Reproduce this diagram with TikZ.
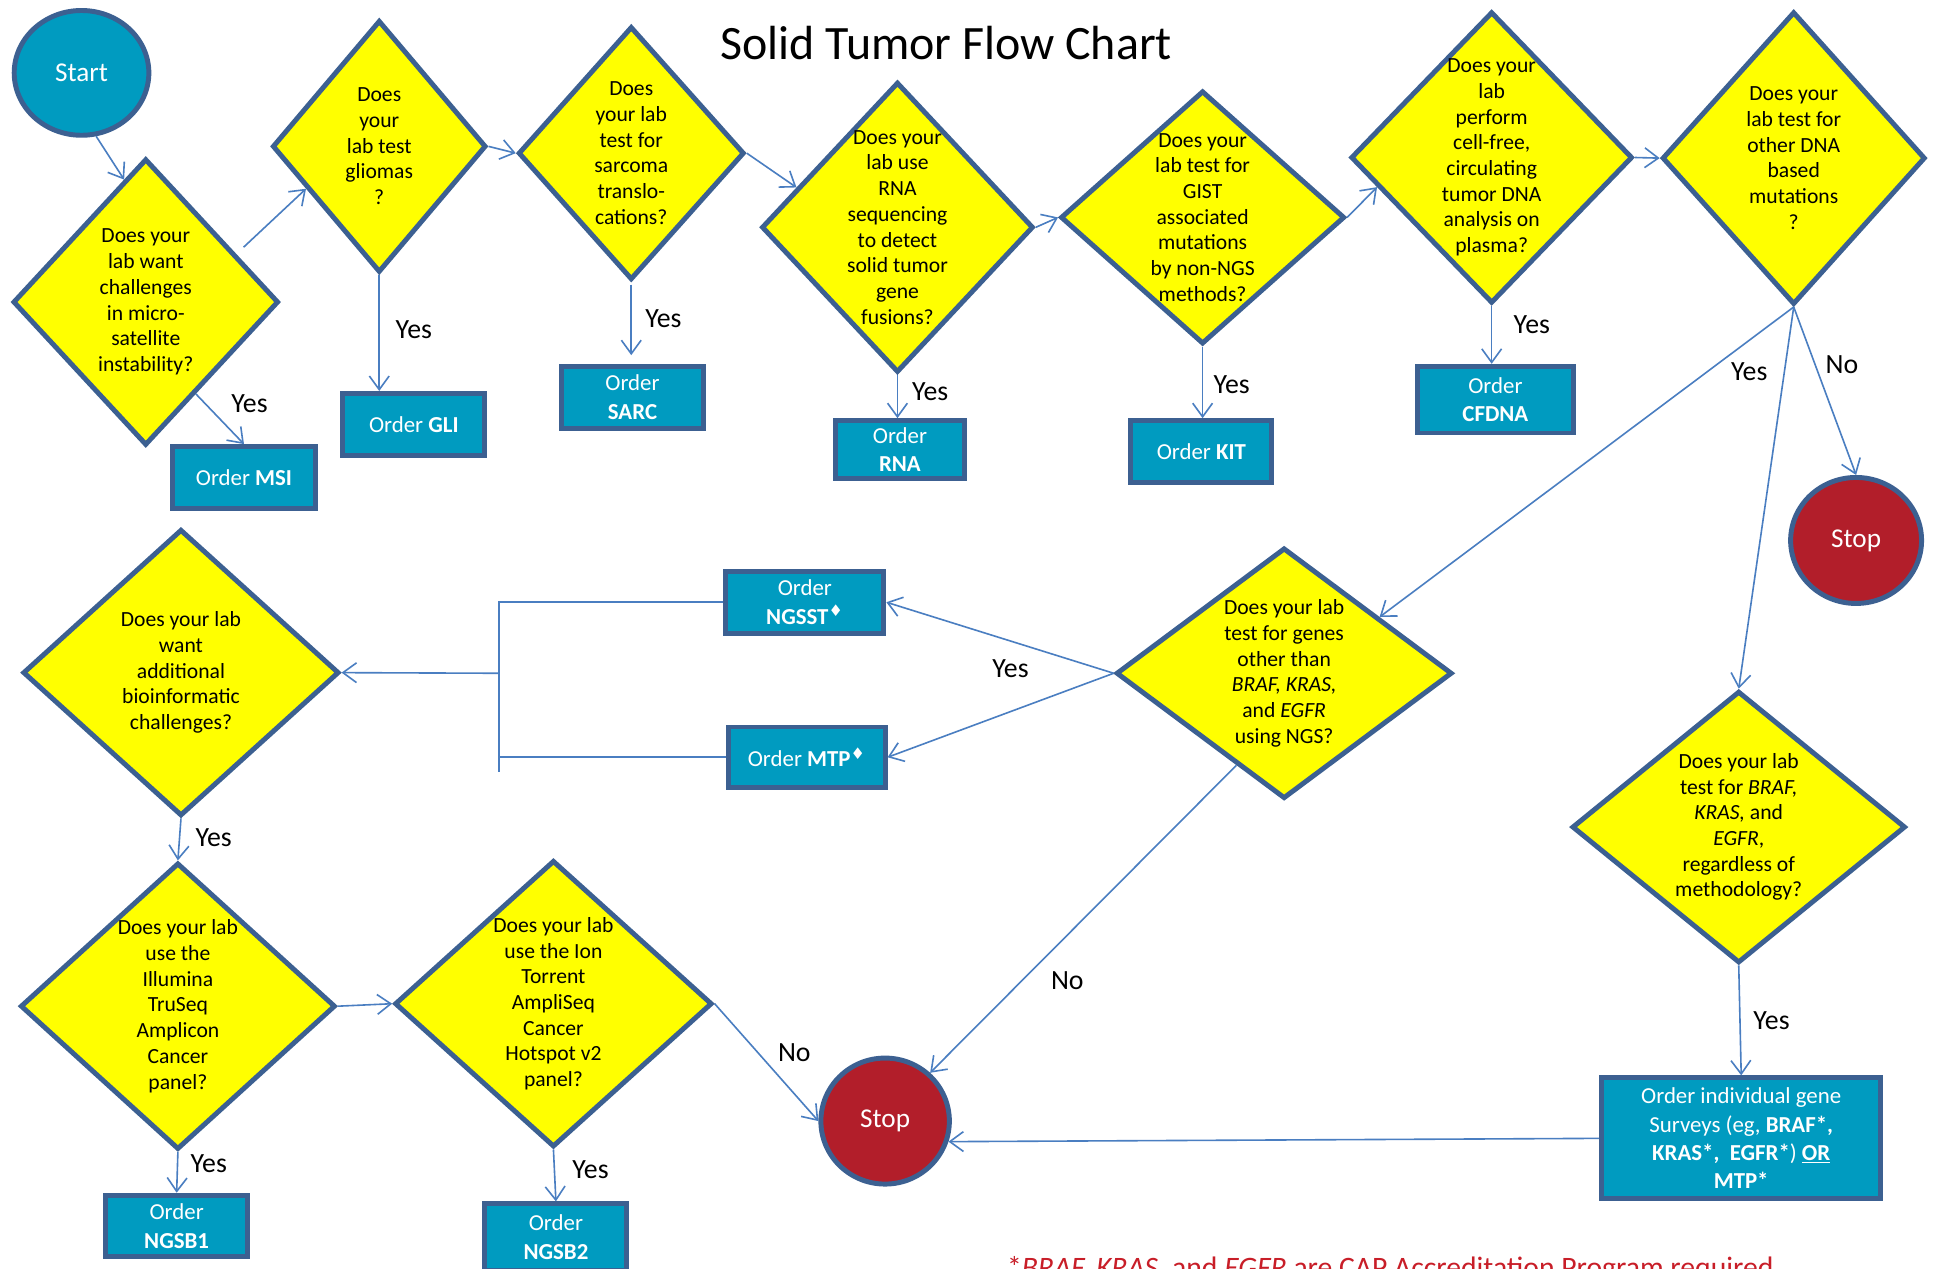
\documentclass[tikz,border=0pt]{standalone}
\usepackage{fontspec}
\setmainfont{Carlito}
\newfontfamily\djv{DejaVu Sans}
\usetikzlibrary{shapes.geometric,arrows.meta,calc}
\definecolor{dyel}{RGB}{255,255,0}
\definecolor{bord}{RGB}{60,96,145}
\definecolor{boxblue}{RGB}{0,155,192}
\definecolor{stopred}{RGB}{178,30,42}
\definecolor{arrowblue}{RGB}{74,126,193}
\definecolor{footred}{RGB}{200,30,40}
\tikzset{
  dia/.style={diamond, draw=bord, line width=4pt, fill=dyel, inner sep=0pt},
  dtext/.style={align=center, font=\fontsize{17.5}{20.8}\selectfont, inner sep=0pt},
  obox/.style={rectangle, draw=bord, line width=4pt, fill=boxblue, text=white, align=center, font=\fontsize{18.5}{23}\selectfont, inner sep=1pt},
  term/.style={ellipse, draw=bord, line width=4pt, text=white, font=\fontsize{22}{26}\selectfont},
  arr/.style={draw=arrowblue, line width=1.3pt, -{Straight Barb[length=11pt,width=16pt]}},
  conn/.style={draw=arrowblue, line width=1.3pt},
  lbl/.style={font=\fontsize{22.5}{26}\selectfont, inner sep=0pt}
}
\begin{document}
\begin{tikzpicture}[x=1pt,y=-1pt]
\useasboundingbox (0,0) rectangle (1568,1027);
\clip (0,0) rectangle (1568,1027);
\fill[white] (0,0) rectangle (1568,1027);

\node[font=\fontsize{38.8}{46}\selectfont] (title) at (766,35) {Solid Tumor Flow Chart};

% terminals
\node[term, fill=boxblue, minimum width=109pt, minimum height=101pt] (start) at (66,59) {Start};
\node[term, fill=stopred, minimum width=106pt, minimum height=102pt] (stop1) at (1502.5,437.5) {Stop};
\node[term, fill=stopred, minimum width=104pt, minimum height=102pt] (stop2) at (716.5,907.5) {Stop};

% diamonds
\node[dia, minimum width=215pt, minimum height=232pt] (d1) at (118,244.5) {};
\node[dtext] (d1t) at (d1) {Does your\\lab want\\challenges\\in micro-\\satellite\\instability?};
\node[dia, minimum width=173pt, minimum height=204pt] (d2) at (307,118.5) {};
\node[dtext] (d2t) at (d2) {Does\\your\\lab test\\gliomas\\?};
\node[dia, minimum width=183pt, minimum height=205pt] (d3) at (511,124) {};
\node[dtext] (d3t) at (d3) {Does\\your lab\\test for\\sarcoma\\translo-\\cations?};
\node[dia, minimum width=220pt, minimum height=235pt] (d4) at (726.5,184) {};
\node[dtext] (d4t) at (d4) {Does your\\lab use\\RNA\\sequencing\\to detect\\solid tumor\\gene\\fusions?};
\node[dia, minimum width=230pt, minimum height=205pt] (d5) at (973.5,176) {};
\node[dtext] (d5t) at (d5) {Does your\\lab test for\\GIST\\associated\\mutations\\by non-NGS\\methods?};
\node[dia, minimum width=228pt, minimum height=236pt] (d6) at (1207.5,127.5) {};
\node[dtext] (d6t) at (d6) {Does your\\lab\\perform\\cell-free,\\circulating\\tumor DNA\\analysis on\\plasma?};
\node[dia, minimum width=213pt, minimum height=237pt] (d7) at (1452,128) {};
\node[dtext] (d7t) at (d7) {Does your\\lab test for\\other DNA\\based\\mutations\\?};
\node[dia, minimum width=272pt, minimum height=203pt] (d8) at (1039.5,545) {};
\node[dtext] (d8t) at (d8) {Does your lab\\test for genes\\other than\\\textit{BRAF, KRAS,}\\and \textit{EGFR}\\using NGS?};
\node[dia, minimum width=270pt, minimum height=220pt] (d9) at (1407.5,669.5) {};
\node[dtext] (d9t) at (d9) {Does your lab\\test for \textit{BRAF,}\\\textit{KRAS,} and\\\textit{EGFR},\\regardless of\\methodology?};
\node[dia, minimum width=256pt, minimum height=232pt] (d10) at (146.5,544.5) {};
\node[dtext] (d10t) at (d10) {Does your lab\\want\\additional\\bioinformatic\\challenges?};
\node[dia, minimum width=255pt, minimum height=232pt] (d11) at (144,814.5) {};
\node[dtext] (d11t) at (d11) {Does your lab\\use the\\Illumina\\TruSeq\\Amplicon\\Cancer\\panel?};
\node[dia, minimum width=257pt, minimum height=232pt] (d12) at (448,812.5) {};
\node[dtext] (d12t) at (d12) {Does your lab\\use the Ion\\Torrent\\AmpliSeq\\Cancer\\Hotspot v2\\panel?};

% order boxes
\node[obox, minimum width=116pt, minimum height=50pt] (msi) at (197.5,386.5) {Order \textbf{MSI}};
\node[obox, minimum width=115pt, minimum height=50pt] (gli) at (335,343.5) {Order \textbf{GLI}};
\node[obox, minimum width=115pt, minimum height=50pt] (sarc) at (512,321.5) {Order\\\textbf{SARC}};
\node[obox, minimum width=104pt, minimum height=47pt] (rna) at (728.5,364) {Order\\\textbf{RNA}};
\node[obox, minimum width=114pt, minimum height=50pt] (kit) at (972.5,365.5) {Order \textbf{KIT}};
\node[obox, minimum width=126pt, minimum height=54pt] (cfdna) at (1210.5,323.5) {Order\\\textbf{CFDNA}};
\node[obox, minimum width=128pt, minimum height=50pt] (ngsst) at (651.5,487.5) {Order\\\textbf{NGSST}\textsuperscript{\djv ♦}};
\node[obox, minimum width=127pt, minimum height=49pt] (mtp) at (653,613) {Order \textbf{MTP}\textsuperscript{\djv ♦}};
\node[obox, minimum width=115pt, minimum height=50pt] (ngsb1) at (143,992.5) {Order\\\textbf{NGSB1}};
\node[obox, minimum width=115pt, minimum height=54pt] (ngsb2) at (450,1001.5) {Order\\\textbf{NGSB2}};
\node[obox, minimum width=226pt, minimum height=98pt] (indiv) at (1409.5,921.5) {Order individual gene\\Surveys (eg, \textbf{BRAF*,}\\\textbf{KRAS*,\ \ EGFR*}) \underline{\textbf{OR}}\\\textbf{MTP*}};

% connectors
\draw[arr] (start.-77) -- ($(d1.north)!0.16!(d1.west)$);
\draw[arr] ($(d1.east)!0.63!(d1.south)$) -- (msi.north);
\draw[arr, shorten <=8pt] ($(d1.north)!0.67!(d1.east)$) -- ($(d2.west)!0.33!(d2.south)$);
\draw[arr] (d2.south) -- (d2.south |- gli.north);
\draw[arr] (d2.east) -- (d3.west);
\draw[arr, shorten <=2pt, shorten >=7pt] (d3.south) -- (d3.south |- sarc.north);
\draw[arr] (d3.east) -- ($(d4.north)!0.73!(d4.west)$);
\draw[arr] (d4.south) -- (d4.south |- rna.north);
\draw[arr] (d4.east) -- (d5.west);
\draw[arr] (d5.south) -- (d5.south |- kit.north);
\draw[arr] (d5.east) -- ($(d6.west)!0.2!(d6.south)$);
\draw[arr] (d6.south) -- (d6.south |- cfdna.north);
\draw[arr] (d6.east) -- (d7.west);
\draw[arr] (d7.south) -- (stop1.north);
\draw[arr] (d7.south) -- ($(d8.north)!0.56!(d8.east)$);
\draw[arr] (d7.south) -- (d9.north);
\draw[arr] (d8.west) -- (ngsst.east);
\draw[arr] (d8.west) -- (mtp.east);
\coordinate (jx) at (404,545);
\coordinate (jbot) at (404,625);
\draw[conn] (ngsst.west) -| (jbot);
\draw[conn] (mtp.west) -- (mtp.west -| jx);
\draw[arr] (jx) -- (d10.east);
\draw[arr] (d10.south) -- (d11.north);
\draw[arr] (d11.south) -- (ngsb1.north);
\draw[arr] (d11.east) -- (d12.west);
\draw[arr] (d12.south) -- (ngsb2.north);
\draw[arr] (d12.east) -- (stop2.west);
\draw[arr] ($(d8.west)!0.72!(d8.south)$) -- (stop2.47);
\draw[arr] (indiv.west) -- (stop2.-18);
\draw[arr] (d9.south) -- (indiv.north);

% labels
\node[lbl] (y1) at (202,327) {Yes};
\node[lbl] (y2) at (335,267) {Yes};
\node[lbl] (y3) at (537,258) {Yes};
\node[lbl] (y4) at (753,317) {Yes};
\node[lbl] (y5) at (997,311) {Yes};
\node[lbl] (y6) at (1240,263) {Yes};
\node[lbl] (y7) at (1416,301) {Yes};
\node[lbl] (n1) at (1491,295) {No};
\node[lbl] (y8) at (818,541) {Yes};
\node[lbl] (y9) at (173,678) {Yes};
\node[lbl] (y10) at (169,942) {Yes};
\node[lbl] (y11) at (478,947) {Yes};
\node[lbl] (n2) at (643,852) {No};
\node[lbl] (n3) at (864,794) {No};
\node[lbl] (y12) at (1434,826) {Yes};

\node[anchor=base west, text=footred, font=\fontsize{24}{28}\selectfont, inner sep=0pt] (foot) at (815,1034) {*\textit{BRAF, KRAS,} and \textit{EGFR} are CAP Accreditation Program required};
\end{tikzpicture}
\end{document}
